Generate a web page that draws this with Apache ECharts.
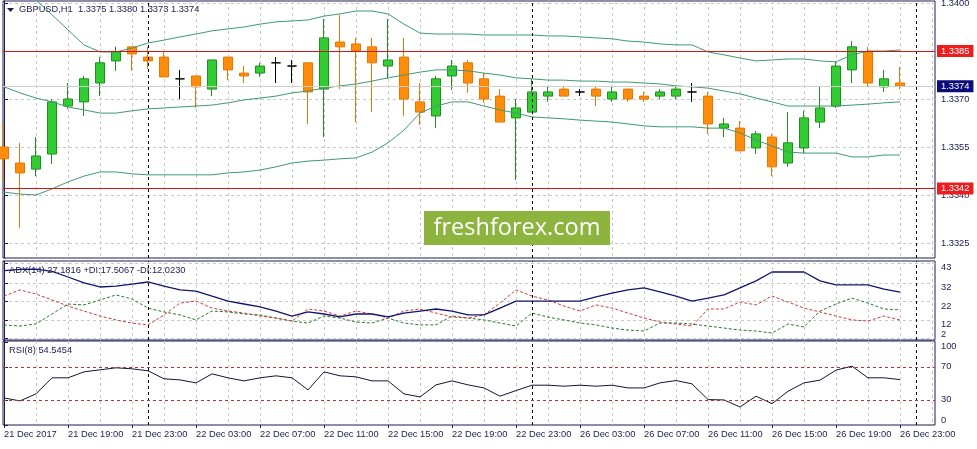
<!DOCTYPE html>
<html>
<head>
<meta charset="utf-8">
<script src="https://cdn.jsdelivr.net/npm/echarts@6/dist/echarts.min.js"></script>
<style>
html, body { margin: 0; padding: 0; background: #fff; }
#chart { width: 977px; height: 449px; }
</style>
</head>
<body>
<div id="chart"></div>
<script>
var symbol = 'GBPUSD,H1';

// one bar per hour, 21 Dec 15:00 .. 26 Dec 23:00
var opens = [1.33550,1.33500,1.33481,1.33528,1.33678,1.33691,1.33750,1.33819,1.33863,1.33831,
  1.33831,1.33763,1.33772,1.33731,1.33831,1.33781,1.33781,1.33813,1.33803,1.33813,
  1.33731,1.33878,1.33872,1.33863,1.33803,1.33831,1.33691,1.33647,1.33772,1.33813,
  1.33763,1.33709,1.33641,1.33659,1.33709,1.33731,1.33722,1.33731,1.33700,1.33731,
  1.33709,1.33709,1.33709,1.33722,1.33709,1.33609,1.33609,1.33547,1.33581,1.33500,
  1.33547,1.33628,1.33678,1.33791,1.33847,1.33738,1.3375];
var highs = [1.33628,1.33563,1.33581,1.33700,1.33750,1.33772,1.33831,1.33863,1.33863,1.33863,
  1.33847,1.33791,1.33772,1.33822,1.33831,1.33803,1.33813,1.33831,1.33822,1.33813,
  1.33950,1.33963,1.33891,1.33891,1.33950,1.33891,1.33750,1.33772,1.33822,1.33822,
  1.33781,1.33731,1.33700,1.33763,1.33741,1.33741,1.33731,1.33741,1.33741,1.33731,
  1.33722,1.33731,1.33741,1.33750,1.33722,1.33641,1.33631,1.33600,1.33591,1.33659,
  1.33663,1.33741,1.33816,1.33881,1.33863,1.33791,1.3380];
var lows = [1.33441,1.33297,1.33459,1.33497,1.33669,1.33647,1.33709,1.33788,1.33788,1.33794,
  1.33769,1.33700,1.33672,1.33709,1.33759,1.33750,1.33769,1.33750,1.33750,1.33622,
  1.33581,1.33731,1.33628,1.33659,1.33763,1.33647,1.33619,1.33609,1.33728,1.33719,
  1.33688,1.33628,1.33447,1.33659,1.33691,1.33709,1.33709,1.33678,1.33691,1.33691,
  1.33691,1.33700,1.33700,1.33691,1.33591,1.33581,1.33538,1.33528,1.33459,1.33488,
  1.33531,1.33609,1.33672,1.33750,1.33738,1.33722,1.3373];
var closes = [1.33513,1.33469,1.33522,1.33691,1.33700,1.33763,1.33813,1.33847,1.33841,1.33819,
  1.33769,1.33763,1.33738,1.33822,1.33791,1.33772,1.33803,1.33813,1.33803,1.33722,
  1.33891,1.33863,1.33850,1.33813,1.33822,1.33700,1.33659,1.33763,1.33803,1.33750,
  1.33700,1.33628,1.33672,1.33722,1.33722,1.33709,1.33722,1.33709,1.33722,1.33700,
  1.33700,1.33722,1.33731,1.33722,1.33622,1.33622,1.33538,1.33591,1.33488,1.33563,
  1.33641,1.33672,1.33803,1.33863,1.33750,1.33763,1.3374];

// bollinger bands
var upperBand = [1.34056,1.34034,1.34009,1.33963,1.33916,1.33869,1.33847,1.33847,1.33859,1.33875,
  1.33884,1.33894,1.33903,1.33913,1.33919,1.33925,1.33934,1.33941,1.33944,1.33947,
  1.33959,1.33966,1.33975,1.33975,1.33966,1.33934,1.33906,1.33903,1.33903,1.33903,
  1.33900,1.33900,1.33900,1.33900,1.33897,1.33897,1.33894,1.33891,1.33888,1.33881,
  1.33878,1.33872,1.33869,1.33869,1.33847,1.33838,1.33828,1.33819,1.33822,1.33825,
  1.33825,1.33819,1.33816,1.33838,1.33850,1.33850,1.33853];
var middleBand = [1.33738,1.33719,1.33703,1.33691,1.33675,1.33666,1.33656,1.33656,1.33663,1.33669,
  1.33672,1.33675,1.33678,1.33681,1.33688,1.33697,1.33703,1.33709,1.33719,1.33725,
  1.33734,1.33741,1.33747,1.33756,1.33766,1.33775,1.33784,1.33791,1.33791,1.33788,
  1.33781,1.33775,1.33766,1.33763,1.33759,1.33759,1.33756,1.33756,1.33753,1.33753,
  1.33750,1.33747,1.33741,1.33738,1.33734,1.33725,1.33716,1.33703,1.33691,1.33678,
  1.33678,1.33678,1.33678,1.33681,1.33684,1.33688,1.33691];
var lowerBand = [1.33409,1.33403,1.33400,1.33419,1.33441,1.33459,1.33472,1.33472,1.33466,1.33463,
  1.33463,1.33463,1.33463,1.33463,1.33469,1.33472,1.33478,1.33488,1.33500,1.33506,
  1.33509,1.33513,1.33516,1.33534,1.33563,1.33603,1.33656,1.33678,1.33691,1.33691,
  1.33678,1.33666,1.33656,1.33644,1.33641,1.33638,1.33634,1.33631,1.33628,1.33622,
  1.33616,1.33613,1.33613,1.33613,1.33609,1.33609,1.33594,1.33572,1.33553,1.33534,
  1.33531,1.33531,1.33531,1.33519,1.33519,1.33525,1.33525];

var adxLine = [38.7,39.4,39.6,38.3,35.3,32.1,29.9,30.4,31.5,32.6,
  30.4,28.3,27.7,25.0,22.3,20.7,19.1,16.9,14.2,16.4,
  15.3,13.7,15.3,15.3,13.7,15.8,16.9,18.0,16.9,14.8,
  14.8,18.5,22.3,22.3,22.3,22.3,22.3,24.5,26.6,28.3,
  29.4,27.2,25.0,22.3,23.9,25.6,29.4,33.2,38.0,38.0,
  38.0,33.2,31.0,31.0,31.0,28.8,27.1816];
var plusDI = [9.4,8.8,9.9,15.3,20.7,20.2,22.9,25.6,23.4,18.5,
  16.4,14.8,12.1,16.9,16.4,15.3,14.8,13.1,11.5,10.4,
  14.2,13.1,11.0,10.4,13.1,10.4,9.4,9.4,14.2,13.1,
  12.1,10.4,8.8,15.8,13.6,12.1,10.4,9.4,7.7,6.6,
  6.1,10.4,10.4,9.9,8.8,7.7,6.6,6.1,5.0,9.9,
  8.3,16.9,20.7,23.9,21.2,18.0,17.5067];
var minusDI = [25.0,28.3,26.1,22.9,19.6,16.9,14.2,12.1,10.4,9.4,
  14.8,21.2,22.3,18.5,16.9,15.8,14.2,13.1,11.5,18.0,
  16.9,14.2,16.9,15.3,13.1,16.9,18.0,15.8,13.7,13.1,
  14.8,21.2,28.3,25.0,22.9,19.6,16.9,20.2,18.5,15.8,
  13.1,11.0,9.9,8.8,18.0,18.0,21.8,20.2,25.0,21.8,
  18.5,16.4,14.2,12.1,11.5,14.2,12.0230];
var rsiLine = [32.4,28.8,37.3,56.7,56.7,63.9,66.4,68.8,67.6,65.2,
  55.5,54.2,50.6,61.5,56.7,53.0,56.7,59.1,56.7,42.1,
  63.9,59.1,57.9,53.0,53.0,37.3,33.6,48.2,53.0,48.2,
  44.5,34.5,41.3,47.8,47.8,46.6,47.8,46.6,47.8,44.5,
  44.5,50.6,53.4,49.4,30.4,30.0,21.5,34.5,25.5,40.5,
  50.6,53.9,66.0,70.8,56.7,56.7,54.5454];

// one label every 4 bars
var timeLabels = ['21 Dec 2017','21 Dec 19:00','21 Dec 23:00','22 Dec 03:00','22 Dec 07:00',
  '22 Dec 11:00','22 Dec 15:00','22 Dec 19:00','22 Dec 23:00','26 Dec 03:00','26 Dec 07:00',
  '26 Dec 11:00','26 Dec 15:00','26 Dec 19:00','26 Dec 23:00'];
var priceTicks = [1.3325, 1.3340, 1.3355, 1.3370, 1.3385, 1.3400];
var adxTicks = [2, 12, 22, 32, 43];
var rsiTicks = [0, 30, 70, 100];
var rsiLevels = [70, 30];
var priceLevels = [1.3385, 1.3342];
var daySeparators = [9, 33, 57];

var chart = echarts.init(document.getElementById('chart'));

var FONT = 'Liberation Sans';
var FS = 9.3;
var TXT = '#1c1c50';
var GRIDC = '#c8c8c8';
var xMin = -0.0625, xMax = 58.1875;
var last = closes.length - 1;

var evenBars = [];
for (var b = 0; b <= 58; b += 2) evenBars.push(b);
var labelBars = timeLabels.map(function (t, k) { return k * 4; });

var candles = opens.map(function (o, i) {
  var item = { value: [i, o, closes[i], lows[i], highs[i]] };
  if (o === closes[i]) {
    item.itemStyle = { color: '#000', color0: '#000', borderColor: '#000', borderColor0: '#000', borderColorDoji: '#000' };
  }
  return item;
});
function pts(arr) { return arr.map(function (v, i) { return [i, v]; }); }

var sepLines = daySeparators.map(function (s) {
  return { xAxis: s, lineStyle: { color: '#000', type: [3, 3], width: 1 }, label: { show: false } };
});
function levelLabel(bg, txt) {
  return { show: true, position: 'end', distance: 2, backgroundColor: bg, color: '#fff',
    fontFamily: FONT, fontSize: FS, padding: [2, 4, 1, 4], formatter: txt };
}
// horizontal price lines with their axis tags
var priceLines = priceLevels.map(function (l) {
  return { yAxis: l, lineStyle: { color: '#d01818', type: 'solid', width: 1 },
    label: levelLabel('#ee1c1c', l.toFixed(4)) };
}).concat([{
  yAxis: closes[last], lineStyle: { color: '#cfcfcf', type: 'solid', width: 1 },
  label: levelLabel('#0c0c7a', closes[last].toFixed(4))
}]);

function gridX(idx) {
  return {
    type: 'value', gridIndex: idx, min: xMin, max: xMax,
    axisLine: { show: false }, axisLabel: { show: false },
    axisTick: { show: false, customValues: evenBars },
    splitLine: { show: true, lineStyle: { color: GRIDC, type: [3, 3], width: 1 } }
  };
}
var gridBase = { show: true, backgroundColor: '#fff', borderColor: TXT, borderWidth: 1,
  left: 3, width: 932, containLabel: false, outerBoundsMode: 'none' };

var option = {
  animation: false,
  backgroundColor: '#fff',
  title: [
    { text: symbol + '  ' + [opens[last], highs[last], lows[last], closes[last]].map(function (v) { return v.toFixed(4); }).join(' '),
      left: 19, top: 4.5, padding: 0,
      textStyle: { color: TXT, fontFamily: FONT, fontSize: FS, fontWeight: 'normal' } },
    { text: 'ADX(14) ' + adxLine[last].toFixed(4) + ' +DI:' + plusDI[last].toFixed(4) + ' -DI:' + minusDI[last].toFixed(4),
      left: 9, top: 265.5, padding: 0,
      textStyle: { color: TXT, fontFamily: FONT, fontSize: FS, fontWeight: 'normal' } },
    { text: 'RSI(8) ' + rsiLine[last].toFixed(4),
      left: 9, top: 345.5, padding: 0,
      textStyle: { color: TXT, fontFamily: FONT, fontSize: FS, fontWeight: 'normal' } }
  ],
  grid: [
    Object.assign({}, gridBase, { top: 1, height: 257 }),
    Object.assign({}, gridBase, { top: 261, height: 79 }),
    Object.assign({}, gridBase, { top: 341, height: 84 })
  ],
  xAxis: [
    gridX(0), gridX(1), gridX(2),
    {
      type: 'value', gridIndex: 2, min: xMin, max: xMax, position: 'bottom',
      axisLine: { show: false }, splitLine: { show: false },
      axisTick: { show: true, customValues: labelBars, length: 3, lineStyle: { color: TXT } },
      axisLabel: { customValues: labelBars, align: 'left', margin: 5, color: TXT,
        fontFamily: FONT, fontSize: FS,
        formatter: function (v) { return timeLabels[Math.round(v / 4)]; } }
    }
  ],
  yAxis: [
    {
      type: 'value', gridIndex: 0, position: 'right', min: 1.33203125, max: 1.3400625,
      axisLine: { show: true, lineStyle: { color: TXT } },
      axisTick: { show: true, customValues: priceTicks, length: 4, lineStyle: { color: TXT } },
      axisLabel: { customValues: priceTicks, margin: 6, color: TXT, fontFamily: FONT, fontSize: FS,
        formatter: function (v) { return v.toFixed(4); } },
      splitLine: { show: true, lineStyle: { color: GRIDC, type: [3, 3], width: 1 } }
    },
    {
      type: 'value', gridIndex: 1, position: 'right', min: 1.24, max: 43.95,
      axisLine: { show: true, lineStyle: { color: TXT } },
      axisTick: { show: true, customValues: adxTicks, length: 4, lineStyle: { color: TXT } },
      axisLabel: { customValues: adxTicks, margin: 6, color: TXT, fontFamily: FONT, fontSize: FS,
        verticalAlign: 'top', verticalAlignMinLabel: 'bottom', verticalAlignMaxLabel: 'top' },
      splitLine: { show: true, lineStyle: { color: GRIDC, type: [3, 3], width: 1 } }
    },
    {
      type: 'value', gridIndex: 2, position: 'right', min: -0.3, max: 101.2,
      axisLine: { show: true, lineStyle: { color: TXT } },
      axisTick: { show: true, customValues: rsiTicks, length: 4, lineStyle: { color: TXT } },
      axisLabel: { customValues: rsiTicks, margin: 6, color: TXT, fontFamily: FONT, fontSize: FS,
        verticalAlignMinLabel: 'bottom', verticalAlignMaxLabel: 'top' },
      splitLine: { show: false }
    }
  ],
  series: [
    {
      type: 'candlestick', xAxisIndex: 0, yAxisIndex: 0,
      encode: { x: 0, y: [1, 2, 3, 4] },
      barWidth: 10,
      data: candles,
      itemStyle: { color: '#33cc33', color0: '#ff8c0a', borderColor: '#1f8f1f', borderColor0: '#e57700',
        borderColorDoji: '#000', borderWidth: 1 },
      markLine: { silent: true, symbol: ['none', 'none'], animation: false, precision: 5, data: sepLines }
    },
    { type: 'line', xAxisIndex: 0, yAxisIndex: 0, data: pts(upperBand), symbol: 'none',
      lineStyle: { color: '#3f9a72', width: 1 },
      markLine: { silent: true, symbol: ['none', 'none'], animation: false, precision: 5, data: priceLines } },
    { type: 'line', xAxisIndex: 0, yAxisIndex: 0, data: pts(middleBand), symbol: 'none',
      lineStyle: { color: '#3f9a72', width: 1 } },
    { type: 'line', xAxisIndex: 0, yAxisIndex: 0, data: pts(lowerBand), symbol: 'none',
      lineStyle: { color: '#3f9a72', width: 1 } },

    { type: 'line', xAxisIndex: 1, yAxisIndex: 1, data: pts(plusDI), symbol: 'none',
      lineStyle: { color: '#2a7a2a', width: 1, type: [3, 2] } },
    { type: 'line', xAxisIndex: 1, yAxisIndex: 1, data: pts(minusDI), symbol: 'none',
      lineStyle: { color: '#d03a3a', width: 1, type: [3, 2] } },
    { type: 'line', xAxisIndex: 1, yAxisIndex: 1, data: pts(adxLine), symbol: 'none',
      lineStyle: { color: '#14146e', width: 1.3 },
      markLine: { silent: true, symbol: ['none', 'none'], animation: false, precision: 5, data: sepLines } },

    { type: 'line', xAxisIndex: 2, yAxisIndex: 2, data: pts(rsiLine), symbol: 'none',
      lineStyle: { color: '#14143a', width: 1 },
      markLine: {
        silent: true, symbol: ['none', 'none'], animation: false, precision: 5,
        data: sepLines.concat(rsiLevels.map(function (l) {
          return { yAxis: l, lineStyle: { color: '#b83232', type: [3, 3], width: 1 }, label: { show: false } };
        }))
      } }
  ],
  graphic: [
    { type: 'polygon', shape: { points: [[7, 8], [14, 8], [10.5, 12]] }, style: { fill: TXT }, z: 10 },
    { type: 'rect', shape: { x: 424, y: 211, width: 186, height: 34 }, style: { fill: '#8cb43f' }, z: 10 },
    { type: 'text', x: 517, y: 228, z: 11,
      style: { text: 'freshforex.com', fill: '#fff', font: '23.5px "Open Sans"',
        align: 'center', verticalAlign: 'middle', textAlign: 'center', textVerticalAlign: 'middle' } }
  ]
};

chart.setOption(option);
</script>
</body>
</html>
